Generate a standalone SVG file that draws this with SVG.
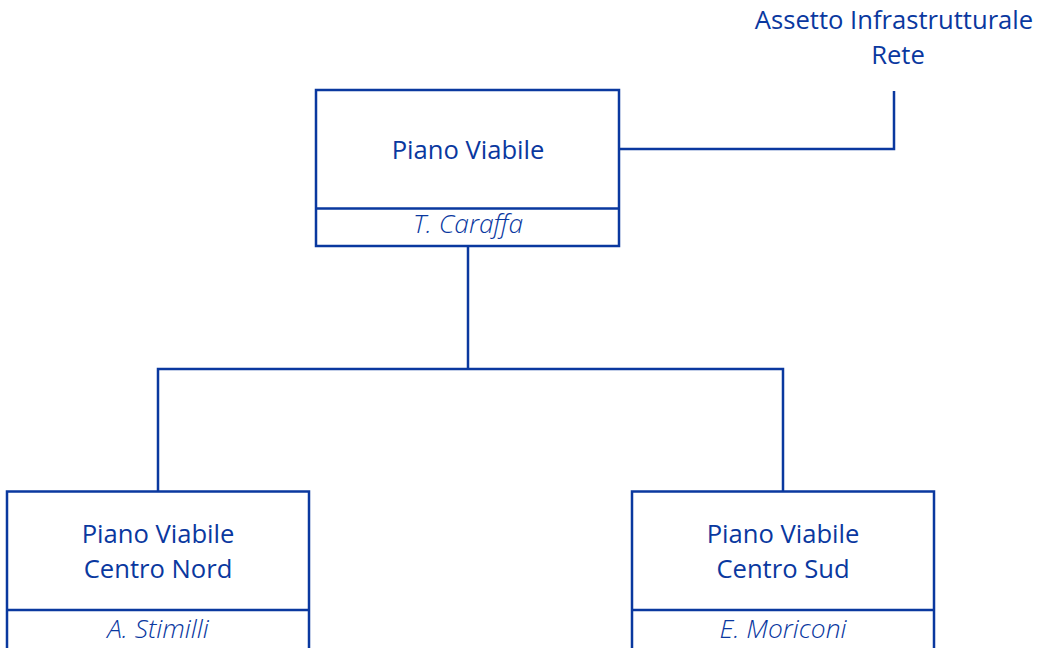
<svg xmlns="http://www.w3.org/2000/svg" width="1037" height="648" viewBox="0 0 1037 648">
<style>
.box{fill:#fff;stroke:#0a389f;stroke-width:2.5}
.ln{fill:none;stroke:#0a389f;stroke-width:2.5}
.t{font-family:"Open Sans","Noto Sans",sans-serif;font-size:25.6px;fill:#0a389f;text-anchor:middle}
.n{font-family:"Open Sans","Noto Sans",sans-serif;font-size:26.4px;font-style:italic;font-weight:300;fill:#0a389f;text-anchor:middle}
</style>
<rect width="1037" height="648" fill="#fff"/>
<g id="connectors">
<polyline class="ln" points="619,149 894,149 894,91"/>
<polyline class="ln" points="468,246 468,369"/>
<polyline class="ln" points="158,491 158,369 783,369 783,491"/>
</g>
<g id="label-assetto">
<text class="t" x="894" y="29">Assetto Infrastrutturale</text>
<text class="t" x="898" y="64">Rete</text>
</g>
<g id="node-piano-viabile">
<rect class="box" x="316" y="90" width="303" height="156"/>
<line class="ln" x1="316" y1="208.5" x2="619" y2="208.5"/>
<text class="t" x="468" y="159">Piano Viabile</text>
<text class="n" x="468" y="233">T. Caraffa</text>
</g>
<g id="node-centro-nord">
<rect class="box" x="7" y="491.5" width="302" height="170"/>
<line class="ln" x1="7" y1="610" x2="309" y2="610"/>
<text class="t" x="158" y="543">Piano Viabile</text>
<text class="t" x="158" y="578">Centro Nord</text>
<text class="n" x="158" y="638">A. Stimilli</text>
</g>
<g id="node-centro-sud">
<rect class="box" x="632" y="491.5" width="302" height="170"/>
<line class="ln" x1="632" y1="610" x2="934" y2="610"/>
<text class="t" x="783" y="543">Piano Viabile</text>
<text class="t" x="783" y="578">Centro Sud</text>
<text class="n" x="783" y="638">E. Moriconi</text>
</g>
</svg>
